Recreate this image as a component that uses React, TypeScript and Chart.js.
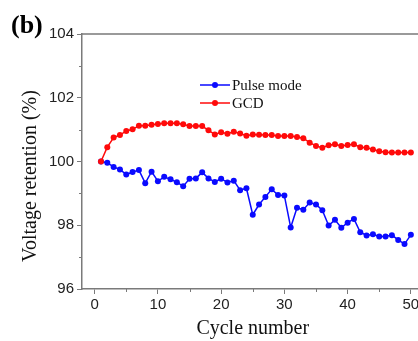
import { useEffect, useRef } from 'react';
import { Chart, registerables } from 'chart.js';

Chart.register(...registerables);

// Cycle index for each measurement
const CYCLES = [
  1, 2, 3, 4, 5, 6, 7, 8, 9, 10,
  11, 12, 13, 14, 15, 16, 17, 18, 19, 20,
  21, 22, 23, 24, 25, 26, 27, 28, 29, 30,
  31, 32, 33, 34, 35, 36, 37, 38, 39, 40,
  41, 42, 43, 44, 45, 46, 47, 48, 49, 50,
];

// Voltage retention (%) under pulse operation
const PULSE_MODE = [
  100.0, 99.96, 99.83, 99.75, 99.59, 99.67, 99.73, 99.32, 99.68, 99.38,
  99.52, 99.44, 99.35, 99.22, 99.46, 99.47, 99.66, 99.47, 99.36, 99.46,
  99.34, 99.4, 99.1, 99.16, 98.33, 98.65, 98.89, 99.13, 98.95, 98.93,
  97.93, 98.55, 98.49, 98.71, 98.65, 98.47, 97.99, 98.17, 97.92, 98.08,
  98.2, 97.78, 97.68, 97.72, 97.65, 97.65, 97.69, 97.54, 97.41, 97.7,
];

// Voltage retention (%) under galvanostatic charge–discharge
const GCD = [
  100.0, 100.45, 100.75, 100.83, 100.96, 101.01, 101.12, 101.12, 101.15, 101.18,
  101.2, 101.2, 101.2, 101.17, 101.11, 101.11, 101.11, 100.98, 100.85, 100.92,
  100.87, 100.93, 100.88, 100.81, 100.85, 100.84, 100.83, 100.83, 100.8, 100.8,
  100.8, 100.77, 100.73, 100.59, 100.49, 100.43, 100.51, 100.54, 100.49, 100.52,
  100.54, 100.45, 100.43, 100.38, 100.32, 100.29, 100.28, 100.28, 100.28, 100.28,
];

const X_TICKS = [0, 10, 20, 30, 40, 50];
const X_MINOR = [5, 15, 25, 35, 45];
const Y_TICKS = [96, 98, 100, 102, 104];
const Y_MINOR = [97, 99, 101, 103];

const SERIES_LABELS = ['Pulse mode', 'GCD'];
const SERIES_COLORS = ['#0a0aff', '#ff0a0a'];

const AXIS_COLOR = '#7a7a7a';
const SANS = '"Liberation Sans", Arial, sans-serif';
const SERIF = '"Liberation Serif", "Times New Roman", serif';

const CANVAS_W = 440;
const CANVAS_H = 341;

// Frame, minor ticks, rotated y title, panel tag and in-plot legend
const decorations = {
  id: 'decorations',
  afterDraw(chart: any) {
    const { ctx, chartArea: a, scales } = chart;
    const xs = scales.x;
    const ys = scales.y;
    ctx.save();

    ctx.strokeStyle = AXIS_COLOR;
    ctx.lineWidth = 1.5;
    ctx.beginPath();
    ctx.moveTo(a.left, a.top);
    ctx.lineTo(a.right, a.top);
    ctx.lineTo(a.right, a.bottom);
    ctx.stroke();

    ctx.lineWidth = 1;
    ctx.beginPath();
    Y_MINOR.forEach((v) => {
      const py = Math.round(ys.getPixelForValue(v)) + 0.5;
      ctx.moveTo(a.left - 3, py);
      ctx.lineTo(a.left, py);
    });
    X_MINOR.forEach((v) => {
      const px = Math.round(xs.getPixelForValue(v)) + 0.5;
      ctx.moveTo(px, a.bottom);
      ctx.lineTo(px, a.bottom + 3);
    });
    ctx.stroke();

    // y-axis title
    ctx.save();
    ctx.translate(31, 176);
    ctx.rotate(-Math.PI / 2);
    ctx.fillStyle = '#111';
    ctx.font = `20px ${SERIF}`;
    ctx.textAlign = 'center';
    ctx.textBaseline = 'middle';
    ctx.fillText('Voltage retention (%)', 0, 0);
    ctx.restore();

    // panel tag
    ctx.fillStyle = '#000';
    ctx.font = `bold 26px ${SERIF}`;
    ctx.textAlign = 'left';
    ctx.textBaseline = 'alphabetic';
    ctx.fillText('(b)', 11, 33);

    // legend
    const lx = a.left + 118;
    const ly0 = a.top + 51;
    chart.data.datasets.forEach((ds: any, i: number) => {
      const ly = ly0 + i * 18;
      ctx.strokeStyle = ds.borderColor;
      ctx.lineWidth = 1.5;
      ctx.beginPath();
      ctx.moveTo(lx, ly);
      ctx.lineTo(lx + 30, ly);
      ctx.stroke();
      ctx.fillStyle = ds.borderColor;
      ctx.beginPath();
      ctx.arc(lx + 15, ly, 3, 0, Math.PI * 2);
      ctx.fill();
      ctx.fillStyle = '#111';
      ctx.font = `15px ${SERIF}`;
      ctx.textBaseline = 'middle';
      ctx.fillText(ds.label, lx + 32, ly + 1);
    });

    ctx.restore();
  },
};

export default function App() {
  const canvasRef = useRef<HTMLCanvasElement | null>(null);

  useEffect(() => {
    const canvas = canvasRef.current;
    if (!canvas) return;

    const seriesValues = [PULSE_MODE, GCD];
    const datasets = seriesValues.map((vals, i) => ({
      label: SERIES_LABELS[i],
      data: CYCLES.map((c, k) => ({ x: c, y: vals[k] })),
      borderColor: SERIES_COLORS[i],
      backgroundColor: SERIES_COLORS[i],
      borderWidth: 1.5,
      pointRadius: 3,
      pointBorderWidth: 0,
      pointHoverRadius: 3,
      tension: 0,
      order: i === 0 ? 1 : 0,
    }));

    const chart = new Chart(canvas, {
      type: 'line',
      data: { datasets },
      plugins: [decorations],
      options: {
        responsive: false,
        animation: false,
        devicePixelRatio: 1,
        layout: { padding: { left: 0, top: 34, right: 16.5, bottom: 0 } },
        plugins: {
          legend: { display: false },
          tooltip: { enabled: false },
        },
        scales: {
          x: {
            type: 'linear',
            min: -2,
            max: 52,
            afterBuildTicks: (scale: any) => {
              scale.ticks = X_TICKS.map((v) => ({ value: v }));
            },
            afterFit: (scale: any) => {
              scale.height = 52;
            },
            grid: {
              drawOnChartArea: false,
              drawTicks: true,
              tickLength: 5,
              color: AXIS_COLOR,
              lineWidth: 1,
            },
            border: { display: true, color: AXIS_COLOR, width: 1.5 },
            ticks: {
              color: '#222',
              font: { family: SANS, size: 15 },
              padding: 2,
              maxRotation: 0,
            },
            title: {
              display: true,
              text: 'Cycle number',
              color: '#111',
              font: { family: SERIF, size: 20 },
              padding: 0,
            },
          },
          y: {
            type: 'linear',
            min: 96,
            max: 104,
            afterBuildTicks: (scale: any) => {
              scale.ticks = Y_TICKS.map((v) => ({ value: v }));
            },
            afterFit: (scale: any) => {
              scale.width = 82;
            },
            grid: {
              drawOnChartArea: false,
              drawTicks: true,
              tickLength: 5,
              color: AXIS_COLOR,
              lineWidth: 1,
            },
            border: { display: true, color: AXIS_COLOR, width: 1.5 },
            ticks: {
              color: '#222',
              font: { family: SANS, size: 15 },
              padding: 3,
            },
          },
        },
      },
    });

    return () => chart.destroy();
  }, []);

  return (
    <div
      style={{
        position: 'fixed',
        left: 0,
        top: 0,
        width: 418,
        height: 341,
        overflow: 'hidden',
        background: '#fff',
      }}
    >
      <canvas
        ref={canvasRef}
        width={CANVAS_W}
        height={CANVAS_H}
        style={{ display: 'block', width: CANVAS_W, height: CANVAS_H }}
      />
    </div>
  );
}
